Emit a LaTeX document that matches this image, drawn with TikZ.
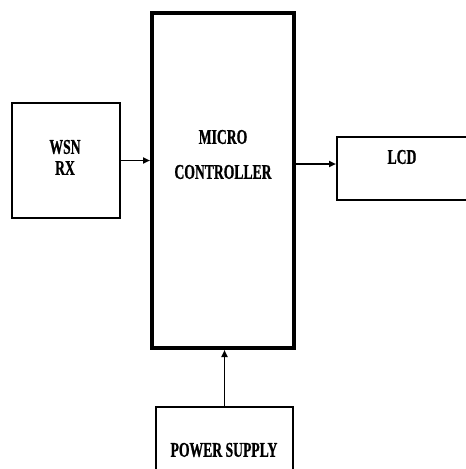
\documentclass[tikz,border=0pt]{standalone}
\usepackage{fontspec}
\setmainfont{Liberation Serif}[FakeStretch=0.65, FakeBold=0.8]
\usetikzlibrary{arrows.meta}

\begin{document}
\begin{tikzpicture}[x=1pt, y=-1pt, >={Triangle[length=7pt, width=6pt]},
  block/.style={rectangle, draw, line width=2pt, inner sep=0pt},
  mcu/.style={block, line width=4pt},
  label/.style={font=\fontsize{21}{24}\selectfont\bfseries, inner sep=0pt},
  link/.style={->, line width=1.8pt}]
  \useasboundingbox (0,0) rectangle (466,469);
  \clip (0,0) rectangle (466,469);
  \fill[white] (0,0) rectangle (466,469);

  \node[block, minimum width=108pt, minimum height=115pt] (wsn)   at (66,160.5)  {};
  \node[mcu,   minimum width=142pt, minimum height=335pt] (micro) at (223,180.5) {};
  \node[block, minimum width=143pt, minimum height=63pt]  (lcd)   at (408.5,168.5) {};
  \node[block, minimum width=137pt, minimum height=83pt]  (power) at (224.5,448.5) {};
  \coordinate (lcdin) at ([yshift=4.5pt]lcd.west);

  \node[label] (wsntxt)   at (65,147)  {WSN};
  \node[label] (rxtxt)    at (65,168)  {RX};
  \node[label] (microtxt) at (223,137) {MICRO};
  \node[label] (ctrltxt)  at (223,172) {CONTROLLER};
  \node[label] (lcdtxt)   at (402,157) {LCD};
  \node[label] (powertxt) at (224,450) {POWER SUPPLY};

  \draw[link] (wsn.east) -- (wsn.east -| micro.west);
  \draw[link] (micro.east |- lcdin) -- (lcdin);
  \draw[link] (power.north) -- (power.north |- micro.south);
\end{tikzpicture}
\end{document}
